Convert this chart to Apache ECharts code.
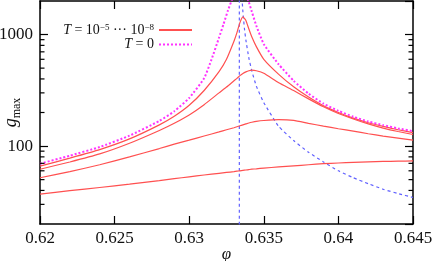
<!DOCTYPE html>
<html><head><meta charset="utf-8">
<script src="https://cdn.jsdelivr.net/npm/echarts@6/dist/echarts.min.js"></script>
<style>html,body{margin:0;padding:0;background:#fff}#c{width:436px;height:261px}</style>
</head><body><div id="c"></div>
<script>
const X_MIN = 0.62, X_MAX = 0.645, X_STEP = 0.005;
const Y_MIN = 20, Y_MAX = 2000;
const yMajorTicks = [100, 1000];
const yMinorTicks = [30, 40, 50, 60, 70, 80, 90, 200, 300, 400, 500, 600, 700, 800, 900];

const phiRed = [0.620,0.622,0.624,0.626,0.628,0.629,0.630,0.631,0.632,0.6325,0.633,0.6332,0.6334,0.6336,0.6338,0.634,0.6342,0.6345,0.635,0.636,0.637,0.638,0.639,0.640,0.641,0.642,0.643,0.644,0.645];
const gRedA = [66,78,93,116,155,185,232,315,465,600,870,1040,1280,1440,1340,1120,950,780,600,440,340,275,230,200,178,162,150,140,132];
const gRedB = [62,72,85,106,138,160,190,235,300,338,385,405,428,448,463,474,480,474,450,370,315,265,225,196,175,158,145,135,127];
const gRedC = [52,59,68,80,95,104,113,123,134,140,146,149,152,155,158,161,163.5,166.5,169.5,172.5,170,160,151,143,136,129,123,118,113];
const gRedD = [37,39.8,42.5,45.5,49,51,53,55,57,58,59,59.5,60,60.5,61,61.5,62,62.5,63.5,65,66.5,68,69.5,70.5,71.5,72.2,72.8,73.2,73.5];

const phiT0 = [0.620,0.622,0.624,0.626,0.628,0.629,0.630,0.631,0.6315,0.632,0.6323,0.6326,0.6329,0.6334,0.6339,0.634,0.6342,0.6345,0.635,0.636,0.637,0.638,0.639,0.640,0.641,0.642,0.643,0.644,0.645];
const gT0 = [69.5,82,98,124,168,205,270,405,600,940,1240,1650,2150,9000,2150,1950,1600,1200,820,540,385,295,240,207,183,166,154,144,136];

const phiBlue = [0.63336,0.63336,0.6335,0.63355,0.6336,0.6337,0.6338,0.634,0.6342,0.6345,0.635,0.636,0.637,0.638,0.639,0.640,0.641,0.642,0.643,0.644,0.645];
const gBlue = [12,9000,2600,2000,1600,1140,890,615,470,345,245,150,112,88,72,60,52,46,41,37.5,34.6];

const zip = (xs, ys) => xs.map((x, i) => [x, ys[i]]);
const FONT = 'Liberation Serif';
const RED = '#ff5050', MAG = '#ff33ff', BLUE = '#6060ff';

const redSeries = [gRedA, gRedB, gRedC, gRedD].map(g => ({
  name: 'red', type: 'line', data: zip(phiRed, g), symbol: 'none', smooth: 0.15,
  lineStyle: { color: RED, width: 1.2 }, itemStyle: { color: RED }, z: 3
}));

const chart = echarts.init(document.getElementById('c'), null, { renderer: 'canvas' });
const axisLine = { show: true, lineStyle: { color: '#000', width: 1.5 } };
const tickStyle = { color: '#000', width: 1.2 };
chart.setOption({
  animation: false,
  backgroundColor: '#fff',
  grid: { left: 40, right: 23, top: 1, bottom: 37, containLabel: false, outerBoundsMode: 'none' },
  xAxis: [{
    type: 'value', min: X_MIN, max: X_MAX, interval: X_STEP, position: 'bottom',
    axisLine, axisTick: { inside: true, length: 8, lineStyle: tickStyle },
    splitLine: { show: false },
    axisLabel: { fontFamily: FONT, fontSize: 17, color: '#111', margin: 6 },
    name: 'φ', nameLocation: 'middle', nameGap: 22, nameMoveOverlap: false,
    nameTextStyle: { fontFamily: FONT, fontSize: 17, fontStyle: 'italic', color: '#111' }
  }, {
    type: 'value', min: X_MIN, max: X_MAX, interval: X_STEP, position: 'top',
    axisLine, axisTick: { inside: true, length: 8, lineStyle: tickStyle },
    splitLine: { show: false }, axisLabel: { show: false }
  }],
  yAxis: [{
    type: 'log', logBase: 10, min: Y_MIN, max: Y_MAX, position: 'left',
    axisLine, axisTick: { inside: true, length: 8, lineStyle: tickStyle },
    splitLine: { show: false },
    axisLabel: { fontFamily: FONT, fontSize: 17, color: '#111', margin: 7,
      showMinLabel: false, showMaxLabel: false,
      formatter: v => yMajorTicks.some(t => Math.abs(t - v) < 1e-6 * t) ? String(Math.round(v)) : '' },
    name: '{g|g}{m|max}', nameLocation: 'middle', nameRotate: 90, nameGap: 20, nameMoveOverlap: false,
    nameTextStyle: { rich: {
      g: { fontFamily: FONT, fontSize: 18, fontStyle: 'italic', color: '#111', lineHeight: 18 },
      m: { fontFamily: FONT, fontSize: 12, color: '#111', verticalAlign: 'bottom', lineHeight: 12, padding: [0,0,-3,0] }
    } }
  }, {
    type: 'log', logBase: 10, min: Y_MIN, max: Y_MAX, position: 'right',
    axisLine, axisTick: { inside: true, length: 8, lineStyle: tickStyle },
    splitLine: { show: false }, axisLabel: { show: false }
  }],
  legend: {
    data: ['red', 't0'], orient: 'vertical', align: 'right', right: 243, top: 23,
    padding: 0, itemGap: 0.5, itemWidth: 33, itemHeight: 12, selectedMode: false,
    itemStyle: { color: 'rgba(0,0,0,0)', borderWidth: 0, opacity: 0 },
    formatter: n => n === 'red' ? '{i|T}{n| = 10}{s|−5}{n| ··· 10}{s|−8}' : '{i|T}{n| = 0}',
    textStyle: { fontFamily: FONT, fontSize: 14, color: '#111', rich: {
      i: { fontFamily: FONT, fontSize: 14, fontStyle: 'italic', color: '#111', lineHeight: 13 },
      n: { fontFamily: FONT, fontSize: 14, color: '#111', lineHeight: 13 },
      s: { fontFamily: FONT, fontSize: 9, color: '#111', verticalAlign: 'top', lineHeight: 9, padding: [0,0,2,0] }
    } }
  },
  series: [
    ...redSeries,
    { name: 't0', type: 'line', data: zip(phiT0, gT0), symbol: 'none', smooth: 0.15,
      lineStyle: { color: MAG, width: 2, type: [2, 2] }, itemStyle: { color: MAG }, z: 4 },
    { name: 'blue', type: 'line', data: zip(phiBlue, gBlue), symbol: 'none', smooth: 0.15,
      lineStyle: { color: BLUE, width: 1.2, type: [3, 3] }, itemStyle: { color: BLUE }, z: 2 },
    { name: 'minor', type: 'custom', coordinateSystem: 'cartesian2d', xAxisIndex: 0, yAxisIndex: 0,
      silent: true, clip: false, z: 10,
      dimensions: ['x', 'y'], encode: { x: 0, y: 1 },
      data: yMinorTicks.map(v => [X_MIN, v]),
      renderItem: (params, api) => {
        const v = api.value(1);
        const pL = api.coord([X_MIN, v]);
        const pR = api.coord([X_MAX, v]);
        const st = { stroke: '#000', lineWidth: 1.2, fill: null };
        return { type: 'group', children: [
          { type: 'polyline', shape: { points: [[pL[0], pL[1]], [pL[0] + 4.5, pL[1]]] }, style: st },
          { type: 'polyline', shape: { points: [[pR[0], pR[1]], [pR[0] - 4.5, pR[1]]] }, style: st }
        ] };
      } }
  ]
});
</script></body></html>
